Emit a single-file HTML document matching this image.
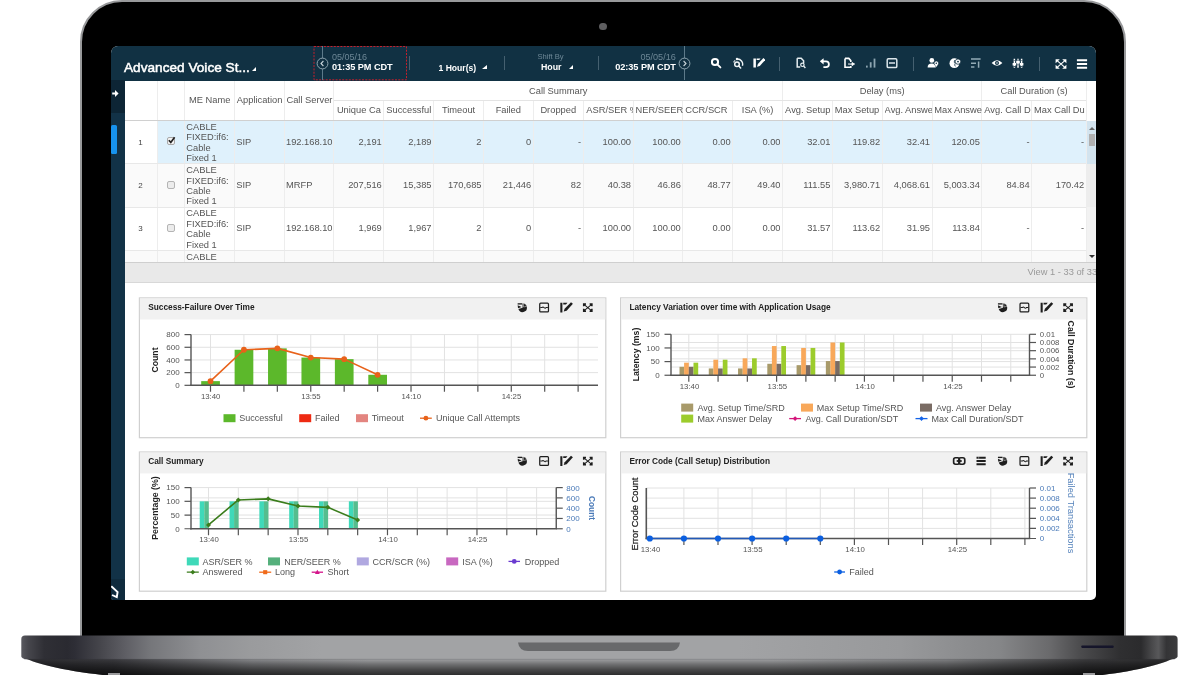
<!DOCTYPE html>
<html><head><meta charset="utf-8"><title>Advanced Voice Statistics</title>
<style>
html,body{margin:0;padding:0;background:#fff;}
body{width:1200px;height:675px;position:relative;overflow:hidden;font-family:"Liberation Sans",sans-serif;}
.abs{position:absolute;}
#lid{position:absolute;left:80px;top:0px;width:1045.7px;height:640px;background:#000;border:2.8px solid #98999b;border-radius:42px 42px 0 0;box-sizing:border-box;}
#screen{position:absolute;left:110.5px;top:46px;width:985px;height:554px;background:#fff;border-radius:7px 7px 5px 3px;overflow:hidden;}
#nav{position:absolute;left:0;top:0;width:985px;height:34.5px;background:#113143;}
#side{position:absolute;left:0;top:34px;width:14.5px;height:520px;background:#123247;}
.t{position:absolute;white-space:nowrap;line-height:1;}
.sep{position:absolute;width:1px;height:14px;top:10px;background:#456070;}
table{border-collapse:collapse;}
.cell{position:absolute;white-space:nowrap;overflow:hidden;font-size:9.3px;color:#555;line-height:10.5px;}
.num{text-align:right;}
.vl{position:absolute;width:1px;background:#ededed;}
.hl{position:absolute;height:1px;background:#e4e4e4;}
.panel{position:absolute;background:#fff;border:1px solid #d6d6d6;box-sizing:border-box;}
.ptitle{position:absolute;left:0;top:0;right:0;height:21px;background:#f1f1f1;}
.ptitle span{position:absolute;left:9.5px;top:6.5px;font-size:7.6px;font-weight:bold;color:#222;line-height:1;white-space:nowrap;}
svg text{font-family:"Liberation Sans",sans-serif;}
</style></head><body>

<div id="lid"></div>
<div class="abs" style="left:599px;top:22.7px;width:7.6px;height:7.6px;border-radius:50%;background:#5e5e60;"></div>
<svg class="abs" style="left:0;top:628px" width="1200" height="47" viewBox="0 628 1200 47">
<defs>
<linearGradient id="bg" gradientUnits="userSpaceOnUse" x1="21" x2="1178" y1="0" y2="0">
<stop offset="0" stop-color="#5a5a60"/><stop offset="0.006" stop-color="#47474d"/><stop offset="0.02" stop-color="#2f2f35"/><stop offset="0.04" stop-color="#2a2a31"/><stop offset="0.0467" stop-color="#2e2e36"/>
<stop offset="0.068" stop-color="#45454b"/><stop offset="0.09" stop-color="#5e5e64"/><stop offset="0.1115" stop-color="#75767a"/><stop offset="0.155" stop-color="#8f9093"/><stop offset="0.198" stop-color="#9a9b9d"/><stop offset="0.26" stop-color="#a2a3a5"/><stop offset="0.62" stop-color="#a2a3a5"/><stop offset="0.76" stop-color="#98999b"/>
<stop offset="0.846" stop-color="#858688"/><stop offset="0.889" stop-color="#6a6a6c"/><stop offset="0.915" stop-color="#4c4c4e"/><stop offset="0.95" stop-color="#2f2f31"/><stop offset="0.968" stop-color="#2b2b2d"/><stop offset="0.978" stop-color="#4a4a4c"/><stop offset="0.983" stop-color="#58585a"/><stop offset="0.99" stop-color="#343436"/><stop offset="1" stop-color="#3c3c3e"/>
</linearGradient>
<linearGradient id="ug" gradientUnits="userSpaceOnUse" x1="21" x2="1178" y1="0" y2="0">
<stop offset="0" stop-color="#2c2c30"/><stop offset="0.08" stop-color="#3a3a3e"/><stop offset="0.2" stop-color="#88898c"/><stop offset="0.3" stop-color="#a0a1a3"/><stop offset="0.65" stop-color="#a0a1a3"/><stop offset="0.8" stop-color="#808183"/><stop offset="0.92" stop-color="#3a3a3c"/><stop offset="1" stop-color="#2a2a2c"/>
</linearGradient>
<linearGradient id="ud" gradientUnits="userSpaceOnUse" x1="0" x2="0" y1="657" y2="675">
<stop offset="0" stop-color="#000" stop-opacity="0"/><stop offset="0.15" stop-color="#000" stop-opacity="0.04"/><stop offset="0.4" stop-color="#000" stop-opacity="0.3"/><stop offset="0.7" stop-color="#000" stop-opacity="0.55"/><stop offset="1" stop-color="#000" stop-opacity="0.72"/>
</linearGradient>
</defs>
<path d="M21.3,656 C33,664 68,671.5 112,676 L1094,676 C1134,671.5 1166,664 1177.6,656 Z" fill="url(#ug)"/>
<path d="M21.3,656 C33,664 68,671.5 112,676 L1094,676 C1134,671.5 1166,664 1177.6,656 Z" fill="url(#ud)"/>
<rect x="108" y="673" width="12" height="2" fill="#9a9a9c"/><rect x="1083" y="673" width="12" height="2" fill="#9a9a9c"/>
<path d="M21.3,639 Q21.3,635.5 25,635.5 L1174,635.5 Q1177.6,635.5 1177.6,639 L1177.6,656 Q1177.6,659 1172,659.3 L27,659.3 Q21.3,659 21.3,656 Z" fill="url(#bg)"/>
<path d="M24,659.3 L1175,659.3" stroke="#2a2a2e" stroke-width="0.8" opacity="0.22"/>
<path d="M518,642.6 L680,642.6 Q679,651 670,651 L528,651 Q519,651 518,642.6 Z" fill="#68696b"/>
<rect x="1081.2" y="645.6" width="32.6" height="2.3" rx="1.1" fill="#15152a"/>
</svg>
<div id="screen">
<div id="nav">
<div class="t" style="left:13.5px;top:14.5px;font-size:13.6px;color:#fff;-webkit-text-stroke:0.5px #fff;letter-spacing:0.02px;">Advanced Voice St...</div>
<div class="abs" style="left:141.2px;top:20.6px;width:0;height:0;border-left:4.5px solid transparent;border-bottom:4.3px solid #fff;"></div>
<svg class="abs" style="left:202.5px;top:0" width="95" height="35" viewBox="0 0 95 35"><rect x="1" y="0.5" width="92.5" height="33.3" fill="none" stroke="#c4202c" stroke-width="1" stroke-dasharray="2 1.3"/></svg>
<div class="abs" style="left:211px;top:0;width:1px;height:34px;background:#5d7a8a;"></div>
<svg class="abs" style="left:205px;top:11px" width="13" height="13" viewBox="0 0 13 13"><circle cx="6.5" cy="6.5" r="5.4" fill="#113143" stroke="#8fa6b1" stroke-width="1"/><path d="M7.4,4 L5,6.5 L7.4,9" fill="none" stroke="#c8d4da" stroke-width="1.1"/></svg>
<div class="t" style="left:221.5px;top:7px;font-size:9px;color:#6d8796;">05/05/16</div>
<div class="t" style="left:221.5px;top:17.4px;font-size:9.2px;color:#fff;font-weight:bold;letter-spacing:-0.05px;">01:35 PM CDT</div>
<div class="sep" style="left:298.5px;"></div>
<div class="t" style="left:328px;top:18px;font-size:8.6px;color:#fff;font-weight:bold;">1 Hour(s)</div>
<div class="abs" style="left:371.8px;top:18.7px;width:0;height:0;border-left:5.6px solid transparent;border-bottom:4.8px solid #fff;"></div>
<div class="sep" style="left:393px;"></div>
<div class="t" style="left:427px;top:7px;font-size:7.6px;color:#6d8796;">Shift By</div>
<div class="t" style="left:430.5px;top:17px;font-size:8.8px;color:#fff;font-weight:bold;">Hour</div>
<div class="abs" style="left:458.8px;top:18.6px;width:0;height:0;border-left:4.6px solid transparent;border-bottom:4.3px solid #fff;"></div>
<div class="sep" style="left:487.5px;"></div>
<div class="t" style="right:419.7px;top:7px;font-size:9.1px;color:#6d8796;">05/05/16</div>
<div class="t" style="right:419.7px;top:17.4px;font-size:9.2px;color:#fff;font-weight:bold;letter-spacing:-0.05px;">02:35 PM CDT</div>
<div class="abs" style="left:573.5px;top:0;width:1px;height:34px;background:#5d7a8a;"></div>
<svg class="abs" style="left:567.5px;top:10.5px" width="13" height="13" viewBox="0 0 13 13"><circle cx="6.5" cy="6.5" r="5.4" fill="#113143" stroke="#8fa6b1" stroke-width="1"/><path d="M5.6,4 L8,6.5 L5.6,9" fill="none" stroke="#c8d4da" stroke-width="1.1"/></svg>
<svg class="abs" style="left:599.3px;top:11.3px;opacity:1" width="12" height="12" viewBox="0 0 12 12"><circle cx="5" cy="5" r="3.1" fill="none" stroke="#fff" stroke-width="2"/><path d="M7.3,7.3 L10.4,10.4" stroke="#fff" stroke-width="1.9" stroke-linecap="round"/></svg>
<svg class="abs" style="left:621.0px;top:11.3px;opacity:1" width="12" height="12" viewBox="0 0 12 12"><circle cx="5" cy="7.2" r="2.3" fill="none" stroke="#eef3f5" stroke-width="1.5"/><path d="M6.8,9 L8.6,11" stroke="#eef3f5" stroke-width="1.6" stroke-linecap="round"/><path d="M5,2 A5.2,5.2 0 0 1 10.4,8.8" fill="none" stroke="#eef3f5" stroke-width="1.4"/><circle cx="5" cy="1.9" r="1.25" fill="#eef3f5"/><path d="M1.6,5.4 A3.8,3.8 0 0 1 3.2,3.4" fill="none" stroke="#eef3f5" stroke-width="1.1"/></svg>
<svg class="abs" style="left:642.2px;top:11.3px;opacity:1" width="12" height="12" viewBox="0 0 12 12"><path d="M0.4,1.4 H2.9 V10.4 H0.4 Z M3.6,1.4 H7.6 L6.2,3.1 H3.6 Z" fill="#fff"/><path d="M4,9.8 L4.9,7 L10.4,1 L12.4,2.8 L6.8,8.9 Z" fill="#fff"/></svg>
<div class="sep" style="left:668.8px;top:10.5px;height:14.5px"></div>
<svg class="abs" style="left:684.3px;top:11.3px;opacity:1" width="12" height="12" viewBox="0 0 12 12"><path d="M2.2,1.2 H6.2 L8.6,3.8 V6 M2.2,1.2 V10 H5.2" fill="none" stroke="#e6edf0" stroke-width="1.5"/><circle cx="7.4" cy="7.8" r="1.7" fill="none" stroke="#e6edf0" stroke-width="1.2"/><path d="M8.6,9 L10.4,10.9" stroke="#e6edf0" stroke-width="1.4"/></svg>
<svg class="abs" style="left:708.8px;top:11.3px;opacity:1" width="12" height="12" viewBox="0 0 12 12"><path d="M3.4,4.3 H7 A2.9,2.9 0 0 1 7,10.1 H4.4" fill="none" stroke="#fff" stroke-width="1.8"/><path d="M0.8,4.3 L4.6,1.2 V7.4 Z" fill="#fff"/></svg>
<svg class="abs" style="left:732.5px;top:11.3px;opacity:1" width="12" height="12" viewBox="0 0 12 12"><path d="M2,1.4 H5.8 L7.8,3.6 V5 M2,1.4 V10.2 H7.8 V9" fill="none" stroke="#fff" stroke-width="1.6"/><path d="M5,7 H9 V5.6 L11.6,7 L9,8.6 V7.4" fill="#fff" stroke="#fff" stroke-width="0.9"/></svg>
<svg class="abs" style="left:754.0px;top:11.3px;opacity:1" width="12" height="12" viewBox="0 0 12 12"><rect x="1" y="8.6" width="1.7" height="2" fill="#8da5b1"/><rect x="4.8" y="5.2" width="1.8" height="5.4" fill="#8da5b1"/><rect x="8.6" y="1.6" width="1.8" height="9" fill="#8da5b1"/></svg>
<svg class="abs" style="left:775.4px;top:11.3px;opacity:1" width="12" height="12" viewBox="0 0 12 12"><rect x="1.2" y="1.8" width="9.6" height="8.8" rx="1.2" fill="none" stroke="#dbe5ea" stroke-width="1.5"/><path d="M3,6 H9" stroke="#dbe5ea" stroke-width="1.4"/><path d="M4.4,4.3 H7.6 M4.4,7.7 H7.6" stroke="#113143" stroke-width="0.6"/></svg>
<div class="sep" style="left:802px;top:10.5px;height:14.5px"></div>
<svg class="abs" style="left:816.7px;top:11.3px;opacity:1" width="12" height="12" viewBox="0 0 12 12"><circle cx="4.8" cy="3.4" r="2.4" fill="#fff"/><path d="M0.6,10.4 Q0.6,6.6 4.8,6.6 Q8.4,6.6 8.8,10.4 Z" fill="#fff"/><circle cx="9.3" cy="6.2" r="2.3" fill="#fff" stroke="#113143" stroke-width="0.7"/><path d="M7.6,7.2 L9.3,10 L11,7.2 Z" fill="#fff"/><circle cx="9.3" cy="6.2" r="0.8" fill="#113143"/></svg>
<svg class="abs" style="left:838.3px;top:11.3px;opacity:1" width="12" height="12" viewBox="0 0 12 12"><circle cx="5.4" cy="6.2" r="4.9" fill="#fff"/><circle cx="9" cy="4.6" r="2.7" fill="#fff" stroke="#113143" stroke-width="0.8"/><path d="M5.8,3 Q4.4,5.4 6.2,6.6 Q5,8 6.4,9.4" fill="none" stroke="#113143" stroke-width="0.8"/><circle cx="9" cy="4.6" r="0.9" fill="#113143"/></svg>
<svg class="abs" style="left:859.2px;top:11.3px;opacity:1" width="12" height="12" viewBox="0 0 12 12"><path d="M1,2 H10.6 M1,6.2 H6 M1,10 H4.4" stroke="#93abb6" stroke-width="1.4"/><path d="M8.6,4.6 V10.8" stroke="#93abb6" stroke-width="1.5"/></svg>
<svg class="abs" style="left:880.8px;top:11.3px;opacity:1" width="12" height="12" viewBox="0 0 12 12"><path d="M0.6,6 Q6,0.6 11.4,6 Q6,11.4 0.6,6 Z" fill="#fff"/><circle cx="6" cy="6" r="2" fill="#113143"/><circle cx="6" cy="6" r="0.8" fill="#dfe8ec"/></svg>
<svg class="abs" style="left:901.9px;top:11.3px;opacity:1" width="12" height="12" viewBox="0 0 12 12"><path d="M2.4,1.8 V10.8 M6,1.8 V10.8 M9.6,1.8 V10.8" stroke="#fff" stroke-width="1.5"/><path d="M0.6,7.2 H4.2 M4.2,5 H7.8 M7.8,7.2 H11.4" stroke="#fff" stroke-width="2.4"/><path d="M2.4,3.4 V4.1 M6,2.8 V3.5 M9.6,3.4 V4.1 M2.4,9 V9.7 M6,7.6 V8.3 M9.6,9 V9.7" stroke="#113143" stroke-width="1.5"/></svg>
<div class="sep" style="left:928.5px;top:10.5px;height:14.5px"></div>
<svg class="abs" style="left:944.5px;top:11.7px;opacity:1" width="12" height="12" viewBox="0 0 12 12"><path d="M0.6,1.2 H4.8 L0.6,5.2 Z M11.4,1.2 V5.2 L7.2,1.2 Z M0.6,10.8 V6.8 L4.8,10.8 Z M11.4,10.8 H7.2 L11.4,6.8 Z" fill="#fff"/><path d="M2.4,2.8 L9.6,9.2 M9.6,2.8 L2.4,9.2" stroke="#fff" stroke-width="1.1"/></svg>
<svg class="abs" style="left:965.6px;top:11.7px;opacity:1" width="12" height="12" viewBox="0 0 12 12"><path d="M0.9,2.2 H11.1 M0.9,6 H11.1 M0.9,9.8 H11.1" stroke="#fff" stroke-width="2"/></svg>
</div>
<div id="side">
<div class="abs" style="left:0;top:0;width:14.5px;height:33px;background:#0d2535;"></div>
<svg class="abs" style="left:1px;top:9.3px" width="8" height="9" viewBox="0 0 8 9"><path d="M0.2,3.4 H3 V0.9 L6.6,4.4 L3,7.9 V5.4 H0.2 Z" fill="#fff"/></svg>
<div class="abs" style="left:0.5px;top:45.3px;width:6.2px;height:28.8px;background:#1793ee;border-radius:1.5px;"></div>
<div class="abs" style="left:0;top:499px;width:14.5px;height:21px;background:#0f2b3d;"></div>
<svg class="abs" style="left:0px;top:505px" width="9" height="14" viewBox="0 0 9 14"><path d="M0.3,1.2 L6.6,7 L5.8,12.2 L1,10 " fill="none" stroke="#fff" stroke-width="1.9" stroke-linejoin="miter"/></svg>
</div>
<div class="abs" style="left:14.5px;top:34.5px;width:970.5px;height:181.5px;background:#fff;"></div>
<div class="abs" style="left:47.0px;top:74.5px;width:938.0px;height:43.3px;background:#dff1fc;"></div>
<div class="abs" style="left:14.5px;top:117.8px;width:970.5px;height:43.3px;background:#fafafa;"></div>
<div class="abs" style="left:14.5px;top:204.2px;width:961.3px;height:11.8px;background:#fafafa;"></div>
<div class="vl" style="left:46.5px;top:34.5px;height:181.5px;"></div>
<div class="vl" style="left:73.3px;top:34.5px;height:181.5px;"></div>
<div class="vl" style="left:123.2px;top:34.5px;height:181.5px;"></div>
<div class="vl" style="left:173.0px;top:34.5px;height:181.5px;"></div>
<div class="vl" style="left:222.9px;top:34.5px;height:181.5px;"></div>
<div class="vl" style="left:272.7px;top:54.3px;height:161.7px;"></div>
<div class="vl" style="left:322.6px;top:54.3px;height:161.7px;"></div>
<div class="vl" style="left:372.4px;top:54.3px;height:161.7px;"></div>
<div class="vl" style="left:422.2px;top:54.3px;height:161.7px;"></div>
<div class="vl" style="left:472.1px;top:54.3px;height:161.7px;"></div>
<div class="vl" style="left:522.0px;top:54.3px;height:161.7px;"></div>
<div class="vl" style="left:571.8px;top:54.3px;height:161.7px;"></div>
<div class="vl" style="left:621.7px;top:54.3px;height:161.7px;"></div>
<div class="vl" style="left:671.5px;top:34.5px;height:181.5px;"></div>
<div class="vl" style="left:721.4px;top:54.3px;height:161.7px;"></div>
<div class="vl" style="left:771.2px;top:54.3px;height:161.7px;"></div>
<div class="vl" style="left:821.0px;top:54.3px;height:161.7px;"></div>
<div class="vl" style="left:870.9px;top:34.5px;height:181.5px;"></div>
<div class="vl" style="left:920.8px;top:54.3px;height:161.7px;"></div>
<div class="vl" style="left:975.3px;top:34.5px;height:181.5px;"></div>
<div class="hl" style="left:223.4px;top:53.8px;width:752.4px;"></div>
<div class="hl" style="left:14.5px;top:74.0px;width:961.3px;background:#d0d0d0;"></div>
<div class="hl" style="left:14.5px;top:117.3px;width:961.3px;background:#e8e8e8;"></div>
<div class="hl" style="left:14.5px;top:160.6px;width:961.3px;background:#e8e8e8;"></div>
<div class="hl" style="left:14.5px;top:203.7px;width:961.3px;background:#e8e8e8;"></div>
<div class="cell " style="left:74.8px;top:34.5px;width:48.8px;height:39.5px;line-height:39.5px;text-align:center;">ME Name</div>
<div class="cell " style="left:124.7px;top:34.5px;width:48.8px;height:39.5px;line-height:39.5px;text-align:center;">Application</div>
<div class="cell " style="left:174.5px;top:34.5px;width:48.9px;height:39.5px;line-height:39.5px;text-align:center;">Call Server</div>
<div class="cell " style="left:226.4px;top:54.3px;width:46.9px;height:20.2px;line-height:20.2px;text-align:left;">Unique Ca</div>
<div class="cell " style="left:275.8px;top:54.3px;width:47.2px;height:20.2px;line-height:20.2px;text-align:left;">Successful</div>
<div class="cell " style="left:323.1px;top:54.3px;width:49.9px;height:20.2px;line-height:20.2px;text-align:center;">Timeout</div>
<div class="cell " style="left:372.9px;top:54.3px;width:49.8px;height:20.2px;line-height:20.2px;text-align:center;">Failed</div>
<div class="cell " style="left:422.8px;top:54.3px;width:49.9px;height:20.2px;line-height:20.2px;text-align:center;">Dropped</div>
<div class="cell " style="left:475.8px;top:54.3px;width:46.7px;height:20.2px;line-height:20.2px;text-align:left;">ASR/SER %</div>
<div class="cell " style="left:525.1px;top:54.3px;width:47.2px;height:20.2px;line-height:20.2px;text-align:left;">NER/SEER</div>
<div class="cell " style="left:574.7px;top:54.3px;width:47.5px;height:20.2px;line-height:20.2px;text-align:left;">CCR/SCR</div>
<div class="cell " style="left:622.2px;top:54.3px;width:49.8px;height:20.2px;line-height:20.2px;text-align:center;">ISA (%)</div>
<div class="cell " style="left:674.6px;top:54.3px;width:47.3px;height:20.2px;line-height:20.2px;text-align:left;">Avg. Setup</div>
<div class="cell " style="left:724.3px;top:54.3px;width:47.4px;height:20.2px;line-height:20.2px;text-align:left;">Max Setup</div>
<div class="cell " style="left:774.1px;top:54.3px;width:47.4px;height:20.2px;line-height:20.2px;text-align:left;">Avg. Answer</div>
<div class="cell " style="left:823.8px;top:54.3px;width:47.7px;height:20.2px;line-height:20.2px;text-align:left;">Max Answer</div>
<div class="cell " style="left:873.8px;top:54.3px;width:47.4px;height:20.2px;line-height:20.2px;text-align:left;">Avg. Call D</div>
<div class="cell " style="left:923.6px;top:54.3px;width:52.1px;height:20.2px;line-height:20.2px;text-align:left;">Max Call Du</div>
<div class="cell" style="left:223.4px;top:35.8px;width:448.6px;height:19px;line-height:19px;text-align:center;">Call Summary</div>
<div class="cell" style="left:672.0px;top:35.8px;width:199.4px;height:19px;line-height:19px;text-align:center;">Delay (ms)</div>
<div class="cell" style="left:871.4px;top:35.8px;width:104.4px;height:19px;line-height:19px;text-align:center;">Call Duration (s)</div>
<div class="cell" style="left:14.5px;top:74.5px;width:31.0px;height:43.3px;line-height:43.3px;text-align:center;font-size:8px;color:#444;">1</div>
<div class="abs" style="left:56.2px;top:91.4px;width:8px;height:8px;border:1px solid #a8a8a8;border-radius:2px;background:#f4f4f4;box-sizing:border-box;"></div>
<svg class="abs" style="left:56.2px;top:90.4px" width="9" height="9" viewBox="0 0 9 9"><path d="M1.8,4.2 L3.8,6.4 L7.6,1.2" fill="none" stroke="#222" stroke-width="1.7"/></svg>
<div class="cell" style="left:75.8px;top:75.8px;width:47.8px;height:43.3px;line-height:10.45px;white-space:normal;">CABLE<br>FIXED:if6:<br>Cable<br>Fixed 1</div>
<div class="cell " style="left:125.7px;top:74.5px;width:47.8px;height:43.3px;line-height:43.3px;">SIP</div>
<div class="cell " style="left:175.5px;top:74.5px;width:47.9px;height:43.3px;line-height:43.3px;">192.168.10</div>
<div class="cell num" style="left:226.4px;top:74.5px;width:44.9px;height:43.3px;line-height:43.3px;">2,191</div>
<div class="cell num" style="left:276.2px;top:74.5px;width:44.8px;height:43.3px;line-height:43.3px;">2,189</div>
<div class="cell num" style="left:326.1px;top:74.5px;width:44.9px;height:43.3px;line-height:43.3px;">2</div>
<div class="cell num" style="left:375.9px;top:74.5px;width:44.8px;height:43.3px;line-height:43.3px;">0</div>
<div class="cell num" style="left:425.8px;top:74.5px;width:44.9px;height:43.3px;line-height:43.3px;">-</div>
<div class="cell num" style="left:475.6px;top:74.5px;width:44.9px;height:43.3px;line-height:43.3px;">100.00</div>
<div class="cell num" style="left:525.5px;top:74.5px;width:44.8px;height:43.3px;line-height:43.3px;">100.00</div>
<div class="cell num" style="left:575.3px;top:74.5px;width:44.9px;height:43.3px;line-height:43.3px;">0.00</div>
<div class="cell num" style="left:625.2px;top:74.5px;width:44.8px;height:43.3px;line-height:43.3px;">0.00</div>
<div class="cell num" style="left:675.0px;top:74.5px;width:44.9px;height:43.3px;line-height:43.3px;">32.01</div>
<div class="cell num" style="left:724.9px;top:74.5px;width:44.8px;height:43.3px;line-height:43.3px;">119.82</div>
<div class="cell num" style="left:774.7px;top:74.5px;width:44.8px;height:43.3px;line-height:43.3px;">32.41</div>
<div class="cell num" style="left:824.5px;top:74.5px;width:44.9px;height:43.3px;line-height:43.3px;">120.05</div>
<div class="cell num" style="left:874.4px;top:74.5px;width:44.8px;height:43.3px;line-height:43.3px;">-</div>
<div class="cell num" style="left:924.2px;top:74.5px;width:49.5px;height:43.3px;line-height:43.3px;">-</div>
<div class="cell" style="left:14.5px;top:117.8px;width:31.0px;height:43.3px;line-height:43.3px;text-align:center;font-size:8px;color:#444;">2</div>
<div class="abs" style="left:56.2px;top:134.6px;width:8px;height:8px;border:1px solid #b4b4b4;border-radius:2px;background:#ececec;box-sizing:border-box;"></div>
<div class="cell" style="left:75.8px;top:119.1px;width:47.8px;height:43.3px;line-height:10.45px;white-space:normal;">CABLE<br>FIXED:if6:<br>Cable<br>Fixed 1</div>
<div class="cell " style="left:125.7px;top:117.8px;width:47.8px;height:43.3px;line-height:43.3px;">SIP</div>
<div class="cell " style="left:175.5px;top:117.8px;width:47.9px;height:43.3px;line-height:43.3px;">MRFP</div>
<div class="cell num" style="left:226.4px;top:117.8px;width:44.9px;height:43.3px;line-height:43.3px;">207,516</div>
<div class="cell num" style="left:276.2px;top:117.8px;width:44.8px;height:43.3px;line-height:43.3px;">15,385</div>
<div class="cell num" style="left:326.1px;top:117.8px;width:44.9px;height:43.3px;line-height:43.3px;">170,685</div>
<div class="cell num" style="left:375.9px;top:117.8px;width:44.8px;height:43.3px;line-height:43.3px;">21,446</div>
<div class="cell num" style="left:425.8px;top:117.8px;width:44.9px;height:43.3px;line-height:43.3px;">82</div>
<div class="cell num" style="left:475.6px;top:117.8px;width:44.9px;height:43.3px;line-height:43.3px;">40.38</div>
<div class="cell num" style="left:525.5px;top:117.8px;width:44.8px;height:43.3px;line-height:43.3px;">46.86</div>
<div class="cell num" style="left:575.3px;top:117.8px;width:44.9px;height:43.3px;line-height:43.3px;">48.77</div>
<div class="cell num" style="left:625.2px;top:117.8px;width:44.8px;height:43.3px;line-height:43.3px;">49.40</div>
<div class="cell num" style="left:675.0px;top:117.8px;width:44.9px;height:43.3px;line-height:43.3px;">111.55</div>
<div class="cell num" style="left:724.9px;top:117.8px;width:44.8px;height:43.3px;line-height:43.3px;">3,980.71</div>
<div class="cell num" style="left:774.7px;top:117.8px;width:44.8px;height:43.3px;line-height:43.3px;">4,068.61</div>
<div class="cell num" style="left:824.5px;top:117.8px;width:44.9px;height:43.3px;line-height:43.3px;">5,003.34</div>
<div class="cell num" style="left:874.4px;top:117.8px;width:44.8px;height:43.3px;line-height:43.3px;">84.84</div>
<div class="cell num" style="left:924.2px;top:117.8px;width:49.5px;height:43.3px;line-height:43.3px;">170.42</div>
<div class="cell" style="left:14.5px;top:161.1px;width:31.0px;height:43.1px;line-height:43.1px;text-align:center;font-size:8px;color:#444;">3</div>
<div class="abs" style="left:56.2px;top:177.8px;width:8px;height:8px;border:1px solid #b4b4b4;border-radius:2px;background:#ececec;box-sizing:border-box;"></div>
<div class="cell" style="left:75.8px;top:162.4px;width:47.8px;height:43.1px;line-height:10.45px;white-space:normal;">CABLE<br>FIXED:if6:<br>Cable<br>Fixed 1</div>
<div class="cell " style="left:125.7px;top:161.1px;width:47.8px;height:43.1px;line-height:43.1px;">SIP</div>
<div class="cell " style="left:175.5px;top:161.1px;width:47.9px;height:43.1px;line-height:43.1px;">192.168.10</div>
<div class="cell num" style="left:226.4px;top:161.1px;width:44.9px;height:43.1px;line-height:43.1px;">1,969</div>
<div class="cell num" style="left:276.2px;top:161.1px;width:44.8px;height:43.1px;line-height:43.1px;">1,967</div>
<div class="cell num" style="left:326.1px;top:161.1px;width:44.9px;height:43.1px;line-height:43.1px;">2</div>
<div class="cell num" style="left:375.9px;top:161.1px;width:44.8px;height:43.1px;line-height:43.1px;">0</div>
<div class="cell num" style="left:425.8px;top:161.1px;width:44.9px;height:43.1px;line-height:43.1px;">-</div>
<div class="cell num" style="left:475.6px;top:161.1px;width:44.9px;height:43.1px;line-height:43.1px;">100.00</div>
<div class="cell num" style="left:525.5px;top:161.1px;width:44.8px;height:43.1px;line-height:43.1px;">100.00</div>
<div class="cell num" style="left:575.3px;top:161.1px;width:44.9px;height:43.1px;line-height:43.1px;">0.00</div>
<div class="cell num" style="left:625.2px;top:161.1px;width:44.8px;height:43.1px;line-height:43.1px;">0.00</div>
<div class="cell num" style="left:675.0px;top:161.1px;width:44.9px;height:43.1px;line-height:43.1px;">31.57</div>
<div class="cell num" style="left:724.9px;top:161.1px;width:44.8px;height:43.1px;line-height:43.1px;">113.62</div>
<div class="cell num" style="left:774.7px;top:161.1px;width:44.8px;height:43.1px;line-height:43.1px;">31.95</div>
<div class="cell num" style="left:824.5px;top:161.1px;width:44.9px;height:43.1px;line-height:43.1px;">113.84</div>
<div class="cell num" style="left:874.4px;top:161.1px;width:44.8px;height:43.1px;line-height:43.1px;">-</div>
<div class="cell num" style="left:924.2px;top:161.1px;width:49.5px;height:43.1px;line-height:43.1px;">-</div>
<div class="cell" style="left:75.8px;top:205.5px;width:45px;height:11px;">CABLE</div>
<div class="abs" style="left:976px;top:74.5px;width:9px;height:141px;background:rgba(0,0,0,0.05);"></div>
<div class="abs" style="left:978.3px;top:88px;width:6.7px;height:12px;background:#b0b0b0;"></div>
<div class="abs" style="left:978.5px;top:80.5px;width:0;height:0;border-left:3px solid transparent;border-right:3px solid transparent;border-bottom:3px solid #666;"></div>
<div class="abs" style="left:978.5px;top:208.5px;width:0;height:0;border-left:3px solid transparent;border-right:3px solid transparent;border-top:3px solid #333;"></div>
<div class="abs" style="left:14.5px;top:215.5px;width:970.5px;height:21.5px;background:#e9e9e9;border-top:1px solid #cfcfcf;border-bottom:1px solid #d8d8d8;box-sizing:border-box;"></div>
<div class="t" style="left:917px;top:221.7px;font-size:9.3px;color:#999;">View 1 - 33 of 33</div>
<svg class="abs" style="left:0;top:0" width="985" height="554" viewBox="110.5 46 985 554">
<rect x="138.90" y="297.90" width="466.40" height="139.80" fill="#fff" stroke="#d0d0d0" stroke-width="1.2"/>
<rect x="139.40" y="298.40" width="465.40" height="21.10" fill="#f1f1f1"/>
<text x="147.70" y="309.80" font-size="8.3" font-weight="bold" fill="#222">Success-Failure Over Time</text>
<line x1="210.00" y1="334.60" x2="210.00" y2="385.25" stroke="#e2e2e2" stroke-width="1"/>
<line x1="243.42" y1="334.60" x2="243.42" y2="385.25" stroke="#e2e2e2" stroke-width="1"/>
<line x1="276.84" y1="334.60" x2="276.84" y2="385.25" stroke="#e2e2e2" stroke-width="1"/>
<line x1="310.26" y1="334.60" x2="310.26" y2="385.25" stroke="#e2e2e2" stroke-width="1"/>
<line x1="343.68" y1="334.60" x2="343.68" y2="385.25" stroke="#e2e2e2" stroke-width="1"/>
<line x1="377.10" y1="334.60" x2="377.10" y2="385.25" stroke="#e2e2e2" stroke-width="1"/>
<line x1="410.52" y1="334.60" x2="410.52" y2="385.25" stroke="#e2e2e2" stroke-width="1"/>
<line x1="443.94" y1="334.60" x2="443.94" y2="385.25" stroke="#e2e2e2" stroke-width="1"/>
<line x1="477.36" y1="334.60" x2="477.36" y2="385.25" stroke="#e2e2e2" stroke-width="1"/>
<line x1="510.78" y1="334.60" x2="510.78" y2="385.25" stroke="#e2e2e2" stroke-width="1"/>
<line x1="544.20" y1="334.60" x2="544.20" y2="385.25" stroke="#e2e2e2" stroke-width="1"/>
<line x1="577.62" y1="334.60" x2="577.62" y2="385.25" stroke="#e2e2e2" stroke-width="1"/>
<line x1="190.50" y1="334.60" x2="597.50" y2="334.60" stroke="#e2e2e2" stroke-width="1"/>
<line x1="190.50" y1="347.28" x2="597.50" y2="347.28" stroke="#e2e2e2" stroke-width="1"/>
<line x1="190.50" y1="359.96" x2="597.50" y2="359.96" stroke="#e2e2e2" stroke-width="1"/>
<line x1="190.50" y1="372.64" x2="597.50" y2="372.64" stroke="#e2e2e2" stroke-width="1"/>
<rect x="200.70" y="381.13" width="18.70" height="4.12" fill="#5cb82b"/>
<rect x="234.12" y="349.76" width="18.70" height="35.49" fill="#5cb82b"/>
<rect x="267.54" y="348.37" width="18.70" height="36.88" fill="#5cb82b"/>
<rect x="300.96" y="357.56" width="18.70" height="27.69" fill="#5cb82b"/>
<rect x="334.38" y="359.14" width="18.70" height="26.11" fill="#5cb82b"/>
<rect x="367.80" y="374.79" width="18.70" height="10.46" fill="#5cb82b"/>
<line x1="190.50" y1="334.60" x2="190.50" y2="385.95" stroke="#555" stroke-width="1.4"/>
<line x1="189.80" y1="385.25" x2="597.50" y2="385.25" stroke="#555" stroke-width="1.4"/>
<line x1="184.00" y1="334.60" x2="190.50" y2="334.60" stroke="#555" stroke-width="1.2"/>
<text x="179.20" y="337.40" font-size="8" text-anchor="end" fill="#555" font-weight="normal" >800</text>
<line x1="184.00" y1="347.28" x2="190.50" y2="347.28" stroke="#555" stroke-width="1.2"/>
<text x="179.20" y="350.08" font-size="8" text-anchor="end" fill="#555" font-weight="normal" >600</text>
<line x1="184.00" y1="359.96" x2="190.50" y2="359.96" stroke="#555" stroke-width="1.2"/>
<text x="179.20" y="362.76" font-size="8" text-anchor="end" fill="#555" font-weight="normal" >400</text>
<line x1="184.00" y1="372.64" x2="190.50" y2="372.64" stroke="#555" stroke-width="1.2"/>
<text x="179.20" y="375.44" font-size="8" text-anchor="end" fill="#555" font-weight="normal" >200</text>
<line x1="184.00" y1="385.32" x2="190.50" y2="385.32" stroke="#555" stroke-width="1.2"/>
<text x="179.20" y="388.12" font-size="8" text-anchor="end" fill="#555" font-weight="normal" >0</text>
<line x1="210.00" y1="385.25" x2="210.00" y2="391.75" stroke="#555" stroke-width="1.2"/>
<line x1="243.42" y1="385.25" x2="243.42" y2="391.75" stroke="#555" stroke-width="1.2"/>
<line x1="276.84" y1="385.25" x2="276.84" y2="391.75" stroke="#555" stroke-width="1.2"/>
<line x1="310.26" y1="385.25" x2="310.26" y2="391.75" stroke="#555" stroke-width="1.2"/>
<line x1="343.68" y1="385.25" x2="343.68" y2="391.75" stroke="#555" stroke-width="1.2"/>
<line x1="377.10" y1="385.25" x2="377.10" y2="391.75" stroke="#555" stroke-width="1.2"/>
<line x1="410.52" y1="385.25" x2="410.52" y2="391.75" stroke="#555" stroke-width="1.2"/>
<line x1="443.94" y1="385.25" x2="443.94" y2="391.75" stroke="#555" stroke-width="1.2"/>
<line x1="477.36" y1="385.25" x2="477.36" y2="391.75" stroke="#555" stroke-width="1.2"/>
<line x1="510.78" y1="385.25" x2="510.78" y2="391.75" stroke="#555" stroke-width="1.2"/>
<line x1="544.20" y1="385.25" x2="544.20" y2="391.75" stroke="#555" stroke-width="1.2"/>
<line x1="577.62" y1="385.25" x2="577.62" y2="391.75" stroke="#555" stroke-width="1.2"/>
<text x="210.20" y="399.40" font-size="7.8" text-anchor="middle" fill="#555" font-weight="normal" >13:40</text>
<text x="310.46" y="399.40" font-size="7.8" text-anchor="middle" fill="#555" font-weight="normal" >13:55</text>
<text x="410.72" y="399.40" font-size="7.8" text-anchor="middle" fill="#555" font-weight="normal" >14:10</text>
<text x="510.98" y="399.40" font-size="7.8" text-anchor="middle" fill="#555" font-weight="normal" >14:25</text>
<polyline points="210.00,381.13 243.42,349.76 276.84,348.37 310.26,357.56 343.68,359.14 377.10,374.79" fill="none" stroke="#e8621a" stroke-width="1.6" stroke-linejoin="round"/>
<circle cx="210.00" cy="381.13" r="2.90" fill="#e8621a"/>
<circle cx="243.42" cy="349.76" r="2.90" fill="#e8621a"/>
<circle cx="276.84" cy="348.37" r="2.90" fill="#e8621a"/>
<circle cx="310.26" cy="357.56" r="2.90" fill="#e8621a"/>
<circle cx="343.68" cy="359.14" r="2.90" fill="#e8621a"/>
<circle cx="377.10" cy="374.79" r="2.90" fill="#e8621a"/>
<text x="157.30" y="360.00" font-size="8.7" text-anchor="middle" fill="#222" font-weight="bold" transform="rotate(-90 157.3 360)">Count</text>
<rect x="223.00" y="414.20" width="12.00" height="8.00" fill="#5cb82b"/>
<text x="238.70" y="421.30" font-size="9" text-anchor="start" fill="#555" font-weight="normal" >Successful</text>
<rect x="298.70" y="414.20" width="12.00" height="8.00" fill="#ee2a12"/>
<text x="314.50" y="421.30" font-size="9" text-anchor="start" fill="#555" font-weight="normal" >Failed</text>
<rect x="355.50" y="414.20" width="12.00" height="8.00" fill="#e38580"/>
<text x="371.20" y="421.30" font-size="9" text-anchor="start" fill="#555" font-weight="normal" >Timeout</text>
<line x1="419.50" y1="418.20" x2="431.30" y2="418.20" stroke="#e8621a" stroke-width="1.3"/>
<circle cx="425.40" cy="418.20" r="2.40" fill="#e8621a"/>
<text x="435.50" y="421.30" font-size="9" text-anchor="start" fill="#555" font-weight="normal" >Unique Call Attempts</text>
<rect x="620.10" y="297.90" width="466.20" height="139.80" fill="#fff" stroke="#d0d0d0" stroke-width="1.2"/>
<rect x="620.60" y="298.40" width="465.20" height="21.10" fill="#f1f1f1"/>
<text x="628.90" y="309.80" font-size="8.3" font-weight="bold" fill="#222">Latency Variation over time with Application Usage</text>
<line x1="688.30" y1="334.30" x2="688.30" y2="375.25" stroke="#e2e2e2" stroke-width="1"/>
<line x1="717.57" y1="334.30" x2="717.57" y2="375.25" stroke="#e2e2e2" stroke-width="1"/>
<line x1="746.84" y1="334.30" x2="746.84" y2="375.25" stroke="#e2e2e2" stroke-width="1"/>
<line x1="776.11" y1="334.30" x2="776.11" y2="375.25" stroke="#e2e2e2" stroke-width="1"/>
<line x1="805.38" y1="334.30" x2="805.38" y2="375.25" stroke="#e2e2e2" stroke-width="1"/>
<line x1="834.65" y1="334.30" x2="834.65" y2="375.25" stroke="#e2e2e2" stroke-width="1"/>
<line x1="863.92" y1="334.30" x2="863.92" y2="375.25" stroke="#e2e2e2" stroke-width="1"/>
<line x1="893.19" y1="334.30" x2="893.19" y2="375.25" stroke="#e2e2e2" stroke-width="1"/>
<line x1="922.46" y1="334.30" x2="922.46" y2="375.25" stroke="#e2e2e2" stroke-width="1"/>
<line x1="951.73" y1="334.30" x2="951.73" y2="375.25" stroke="#e2e2e2" stroke-width="1"/>
<line x1="981.00" y1="334.30" x2="981.00" y2="375.25" stroke="#e2e2e2" stroke-width="1"/>
<line x1="1010.27" y1="334.30" x2="1010.27" y2="375.25" stroke="#e2e2e2" stroke-width="1"/>
<line x1="670.50" y1="334.30" x2="1029.00" y2="334.30" stroke="#e2e2e2" stroke-width="1"/>
<line x1="670.50" y1="347.95" x2="1029.00" y2="347.95" stroke="#e2e2e2" stroke-width="1"/>
<line x1="670.50" y1="361.60" x2="1029.00" y2="361.60" stroke="#e2e2e2" stroke-width="1"/>
<line x1="670.50" y1="342.49" x2="1029.00" y2="342.49" stroke="#e2e2e2" stroke-width="1"/>
<line x1="670.50" y1="350.68" x2="1029.00" y2="350.68" stroke="#e2e2e2" stroke-width="1"/>
<line x1="670.50" y1="358.87" x2="1029.00" y2="358.87" stroke="#e2e2e2" stroke-width="1"/>
<line x1="670.50" y1="367.06" x2="1029.00" y2="367.06" stroke="#e2e2e2" stroke-width="1"/>
<rect x="679.00" y="366.79" width="4.70" height="8.46" fill="#a89a6a"/>
<rect x="683.60" y="362.69" width="4.70" height="12.56" fill="#f8a85a"/>
<rect x="688.30" y="366.79" width="4.70" height="8.46" fill="#7a6c64"/>
<rect x="693.00" y="362.69" width="4.70" height="12.56" fill="#9ccc2c"/>
<rect x="708.27" y="368.43" width="4.70" height="6.83" fill="#a89a6a"/>
<rect x="712.87" y="359.69" width="4.70" height="15.56" fill="#f8a85a"/>
<rect x="717.57" y="368.43" width="4.70" height="6.83" fill="#7a6c64"/>
<rect x="722.27" y="359.69" width="4.70" height="15.56" fill="#9ccc2c"/>
<rect x="737.54" y="368.43" width="4.70" height="6.83" fill="#a89a6a"/>
<rect x="742.14" y="358.32" width="4.70" height="16.93" fill="#f8a85a"/>
<rect x="746.84" y="368.43" width="4.70" height="6.83" fill="#7a6c64"/>
<rect x="751.54" y="358.32" width="4.70" height="16.93" fill="#9ccc2c"/>
<rect x="766.81" y="363.78" width="4.70" height="11.47" fill="#a89a6a"/>
<rect x="771.41" y="346.04" width="4.70" height="29.21" fill="#f8a85a"/>
<rect x="776.11" y="363.78" width="4.70" height="11.47" fill="#7a6c64"/>
<rect x="780.81" y="346.04" width="4.70" height="29.21" fill="#9ccc2c"/>
<rect x="796.08" y="365.15" width="4.70" height="10.10" fill="#a89a6a"/>
<rect x="800.68" y="347.95" width="4.70" height="27.30" fill="#f8a85a"/>
<rect x="805.38" y="365.15" width="4.70" height="10.10" fill="#7a6c64"/>
<rect x="810.08" y="347.95" width="4.70" height="27.30" fill="#9ccc2c"/>
<rect x="825.35" y="361.05" width="4.70" height="14.20" fill="#a89a6a"/>
<rect x="829.95" y="342.49" width="4.70" height="32.76" fill="#f8a85a"/>
<rect x="834.65" y="361.05" width="4.70" height="14.20" fill="#7a6c64"/>
<rect x="839.35" y="342.49" width="4.70" height="32.76" fill="#9ccc2c"/>
<line x1="670.50" y1="334.30" x2="670.50" y2="375.95" stroke="#555" stroke-width="1.4"/>
<line x1="669.80" y1="375.25" x2="1029.70" y2="375.25" stroke="#555" stroke-width="1.4"/>
<line x1="1029.00" y1="334.30" x2="1029.00" y2="375.25" stroke="#555" stroke-width="1.4"/>
<line x1="664.00" y1="334.30" x2="670.50" y2="334.30" stroke="#555" stroke-width="1.2"/>
<text x="659.20" y="337.10" font-size="8" text-anchor="end" fill="#555" font-weight="normal" >150</text>
<line x1="664.00" y1="347.95" x2="670.50" y2="347.95" stroke="#555" stroke-width="1.2"/>
<text x="659.20" y="350.75" font-size="8" text-anchor="end" fill="#555" font-weight="normal" >100</text>
<line x1="664.00" y1="361.60" x2="670.50" y2="361.60" stroke="#555" stroke-width="1.2"/>
<text x="659.20" y="364.40" font-size="8" text-anchor="end" fill="#555" font-weight="normal" >50</text>
<line x1="664.00" y1="375.25" x2="670.50" y2="375.25" stroke="#555" stroke-width="1.2"/>
<text x="659.20" y="378.05" font-size="8" text-anchor="end" fill="#555" font-weight="normal" >0</text>
<line x1="1029.00" y1="334.30" x2="1035.50" y2="334.30" stroke="#555" stroke-width="1.2"/>
<text x="1039.30" y="337.10" font-size="7.8" text-anchor="start" fill="#555" font-weight="normal" >0.01</text>
<line x1="1029.00" y1="342.49" x2="1035.50" y2="342.49" stroke="#555" stroke-width="1.2"/>
<text x="1039.30" y="345.29" font-size="7.8" text-anchor="start" fill="#555" font-weight="normal" >0.008</text>
<line x1="1029.00" y1="350.68" x2="1035.50" y2="350.68" stroke="#555" stroke-width="1.2"/>
<text x="1039.30" y="353.48" font-size="7.8" text-anchor="start" fill="#555" font-weight="normal" >0.006</text>
<line x1="1029.00" y1="358.87" x2="1035.50" y2="358.87" stroke="#555" stroke-width="1.2"/>
<text x="1039.30" y="361.67" font-size="7.8" text-anchor="start" fill="#555" font-weight="normal" >0.004</text>
<line x1="1029.00" y1="367.06" x2="1035.50" y2="367.06" stroke="#555" stroke-width="1.2"/>
<text x="1039.30" y="369.86" font-size="7.8" text-anchor="start" fill="#555" font-weight="normal" >0.002</text>
<line x1="1029.00" y1="375.25" x2="1035.50" y2="375.25" stroke="#555" stroke-width="1.2"/>
<text x="1039.30" y="378.05" font-size="7.8" text-anchor="start" fill="#555" font-weight="normal" >0</text>
<line x1="688.30" y1="375.25" x2="688.30" y2="381.75" stroke="#555" stroke-width="1.2"/>
<line x1="717.57" y1="375.25" x2="717.57" y2="381.75" stroke="#555" stroke-width="1.2"/>
<line x1="746.84" y1="375.25" x2="746.84" y2="381.75" stroke="#555" stroke-width="1.2"/>
<line x1="776.11" y1="375.25" x2="776.11" y2="381.75" stroke="#555" stroke-width="1.2"/>
<line x1="805.38" y1="375.25" x2="805.38" y2="381.75" stroke="#555" stroke-width="1.2"/>
<line x1="834.65" y1="375.25" x2="834.65" y2="381.75" stroke="#555" stroke-width="1.2"/>
<line x1="863.92" y1="375.25" x2="863.92" y2="381.75" stroke="#555" stroke-width="1.2"/>
<line x1="893.19" y1="375.25" x2="893.19" y2="381.75" stroke="#555" stroke-width="1.2"/>
<line x1="922.46" y1="375.25" x2="922.46" y2="381.75" stroke="#555" stroke-width="1.2"/>
<line x1="951.73" y1="375.25" x2="951.73" y2="381.75" stroke="#555" stroke-width="1.2"/>
<line x1="981.00" y1="375.25" x2="981.00" y2="381.75" stroke="#555" stroke-width="1.2"/>
<line x1="1010.27" y1="375.25" x2="1010.27" y2="381.75" stroke="#555" stroke-width="1.2"/>
<text x="689.00" y="389.00" font-size="7.8" text-anchor="middle" fill="#555" font-weight="normal" >13:40</text>
<text x="776.81" y="389.00" font-size="7.8" text-anchor="middle" fill="#555" font-weight="normal" >13:55</text>
<text x="864.62" y="389.00" font-size="7.8" text-anchor="middle" fill="#555" font-weight="normal" >14:10</text>
<text x="952.43" y="389.00" font-size="7.8" text-anchor="middle" fill="#555" font-weight="normal" >14:25</text>
<text x="638.00" y="354.50" font-size="8.7" text-anchor="middle" fill="#222" font-weight="bold" transform="rotate(-90 638 354.5)">Latency (ms)</text>
<text x="1067.50" y="354.50" font-size="8.8" text-anchor="middle" fill="#222" font-weight="bold" transform="rotate(90 1067.5 354.5)">Call Duration (s)</text>
<rect x="680.70" y="403.60" width="12.00" height="8.00" fill="#a89a6a"/>
<text x="697.00" y="410.70" font-size="9" text-anchor="start" fill="#555" font-weight="normal" >Avg. Setup Time/SRD</text>
<rect x="800.50" y="403.60" width="12.00" height="8.00" fill="#f8a85a"/>
<text x="816.30" y="410.70" font-size="9" text-anchor="start" fill="#555" font-weight="normal" >Max Setup Time/SRD</text>
<rect x="919.50" y="403.60" width="12.00" height="8.00" fill="#7a6c64"/>
<text x="935.50" y="410.70" font-size="9" text-anchor="start" fill="#555" font-weight="normal" >Avg. Answer Delay</text>
<rect x="680.70" y="414.60" width="12.00" height="8.00" fill="#9ccc2c"/>
<text x="697.00" y="421.70" font-size="9" text-anchor="start" fill="#555" font-weight="normal" >Max Answer Delay</text>
<line x1="788.70" y1="418.60" x2="800.50" y2="418.60" stroke="#d4147a" stroke-width="1.3"/>
<path d="M792.20,418.60 l2.40,-2.40 l2.40,2.40 l-2.40,2.40 Z" fill="#d4147a"/>
<text x="805.00" y="421.70" font-size="9" text-anchor="start" fill="#555" font-weight="normal" >Avg. Call Duration/SDT</text>
<line x1="915.00" y1="418.60" x2="927.00" y2="418.60" stroke="#1464e8" stroke-width="1.3"/>
<path d="M918.60,418.60 l2.40,-2.40 l2.40,2.40 l-2.40,2.40 Z" fill="#1464e8"/>
<text x="931.00" y="421.70" font-size="9" text-anchor="start" fill="#555" font-weight="normal" >Max Call Duration/SDT</text>
<rect x="138.90" y="452.00" width="466.40" height="139.20" fill="#fff" stroke="#d0d0d0" stroke-width="1.2"/>
<rect x="139.40" y="452.50" width="465.40" height="20.90" fill="#f1f1f1"/>
<text x="147.70" y="463.90" font-size="8.3" font-weight="bold" fill="#222">Call Summary</text>
<line x1="208.00" y1="487.60" x2="208.00" y2="528.75" stroke="#e2e2e2" stroke-width="1"/>
<line x1="237.83" y1="487.60" x2="237.83" y2="528.75" stroke="#e2e2e2" stroke-width="1"/>
<line x1="267.66" y1="487.60" x2="267.66" y2="528.75" stroke="#e2e2e2" stroke-width="1"/>
<line x1="297.49" y1="487.60" x2="297.49" y2="528.75" stroke="#e2e2e2" stroke-width="1"/>
<line x1="327.32" y1="487.60" x2="327.32" y2="528.75" stroke="#e2e2e2" stroke-width="1"/>
<line x1="357.15" y1="487.60" x2="357.15" y2="528.75" stroke="#e2e2e2" stroke-width="1"/>
<line x1="386.98" y1="487.60" x2="386.98" y2="528.75" stroke="#e2e2e2" stroke-width="1"/>
<line x1="416.81" y1="487.60" x2="416.81" y2="528.75" stroke="#e2e2e2" stroke-width="1"/>
<line x1="446.64" y1="487.60" x2="446.64" y2="528.75" stroke="#e2e2e2" stroke-width="1"/>
<line x1="476.47" y1="487.60" x2="476.47" y2="528.75" stroke="#e2e2e2" stroke-width="1"/>
<line x1="506.30" y1="487.60" x2="506.30" y2="528.75" stroke="#e2e2e2" stroke-width="1"/>
<line x1="536.13" y1="487.60" x2="536.13" y2="528.75" stroke="#e2e2e2" stroke-width="1"/>
<line x1="190.50" y1="487.60" x2="555.75" y2="487.60" stroke="#e2e2e2" stroke-width="1"/>
<line x1="190.50" y1="501.32" x2="555.75" y2="501.32" stroke="#e2e2e2" stroke-width="1"/>
<line x1="190.50" y1="515.04" x2="555.75" y2="515.04" stroke="#e2e2e2" stroke-width="1"/>
<line x1="190.50" y1="497.89" x2="555.75" y2="497.89" stroke="#e2e2e2" stroke-width="1"/>
<line x1="190.50" y1="508.18" x2="555.75" y2="508.18" stroke="#e2e2e2" stroke-width="1"/>
<line x1="190.50" y1="518.47" x2="555.75" y2="518.47" stroke="#e2e2e2" stroke-width="1"/>
<rect x="199.20" y="501.32" width="4.60" height="27.43" fill="#3fd9b9"/>
<rect x="203.75" y="501.32" width="4.50" height="27.43" fill="#56bd8e"/>
<rect x="229.03" y="501.32" width="4.60" height="27.43" fill="#3fd9b9"/>
<rect x="233.58" y="501.32" width="4.50" height="27.43" fill="#56bd8e"/>
<rect x="258.86" y="501.32" width="4.60" height="27.43" fill="#3fd9b9"/>
<rect x="263.41" y="501.32" width="4.50" height="27.43" fill="#56bd8e"/>
<rect x="288.69" y="501.32" width="4.60" height="27.43" fill="#3fd9b9"/>
<rect x="293.24" y="501.32" width="4.50" height="27.43" fill="#56bd8e"/>
<rect x="318.52" y="501.32" width="4.60" height="27.43" fill="#3fd9b9"/>
<rect x="323.07" y="501.32" width="4.50" height="27.43" fill="#56bd8e"/>
<rect x="348.35" y="501.32" width="4.60" height="27.43" fill="#3fd9b9"/>
<rect x="352.90" y="501.32" width="4.50" height="27.43" fill="#56bd8e"/>
<line x1="190.50" y1="487.60" x2="190.50" y2="529.45" stroke="#555" stroke-width="1.4"/>
<line x1="189.80" y1="528.75" x2="556.45" y2="528.75" stroke="#555" stroke-width="1.4"/>
<line x1="555.75" y1="487.60" x2="555.75" y2="528.75" stroke="#555" stroke-width="1.4"/>
<line x1="184.00" y1="487.60" x2="190.50" y2="487.60" stroke="#555" stroke-width="1.2"/>
<text x="179.20" y="490.40" font-size="8" text-anchor="end" fill="#555" font-weight="normal" >150</text>
<line x1="184.00" y1="501.32" x2="190.50" y2="501.32" stroke="#555" stroke-width="1.2"/>
<text x="179.20" y="504.12" font-size="8" text-anchor="end" fill="#555" font-weight="normal" >100</text>
<line x1="184.00" y1="515.04" x2="190.50" y2="515.04" stroke="#555" stroke-width="1.2"/>
<text x="179.20" y="517.84" font-size="8" text-anchor="end" fill="#555" font-weight="normal" >50</text>
<line x1="184.00" y1="528.76" x2="190.50" y2="528.76" stroke="#555" stroke-width="1.2"/>
<text x="179.20" y="531.56" font-size="8" text-anchor="end" fill="#555" font-weight="normal" >0</text>
<line x1="555.75" y1="487.60" x2="562.25" y2="487.60" stroke="#555" stroke-width="1.2"/>
<text x="565.75" y="490.50" font-size="8" text-anchor="start" fill="#4a7ab8" font-weight="normal" >800</text>
<line x1="555.75" y1="497.89" x2="562.25" y2="497.89" stroke="#555" stroke-width="1.2"/>
<text x="565.75" y="500.79" font-size="8" text-anchor="start" fill="#4a7ab8" font-weight="normal" >600</text>
<line x1="555.75" y1="508.18" x2="562.25" y2="508.18" stroke="#555" stroke-width="1.2"/>
<text x="565.75" y="511.08" font-size="8" text-anchor="start" fill="#4a7ab8" font-weight="normal" >400</text>
<line x1="555.75" y1="518.47" x2="562.25" y2="518.47" stroke="#555" stroke-width="1.2"/>
<text x="565.75" y="521.37" font-size="8" text-anchor="start" fill="#4a7ab8" font-weight="normal" >200</text>
<line x1="555.75" y1="528.76" x2="562.25" y2="528.76" stroke="#555" stroke-width="1.2"/>
<text x="565.75" y="531.66" font-size="8" text-anchor="start" fill="#4a7ab8" font-weight="normal" >0</text>
<line x1="208.00" y1="528.75" x2="208.00" y2="535.25" stroke="#555" stroke-width="1.2"/>
<line x1="237.83" y1="528.75" x2="237.83" y2="535.25" stroke="#555" stroke-width="1.2"/>
<line x1="267.66" y1="528.75" x2="267.66" y2="535.25" stroke="#555" stroke-width="1.2"/>
<line x1="297.49" y1="528.75" x2="297.49" y2="535.25" stroke="#555" stroke-width="1.2"/>
<line x1="327.32" y1="528.75" x2="327.32" y2="535.25" stroke="#555" stroke-width="1.2"/>
<line x1="357.15" y1="528.75" x2="357.15" y2="535.25" stroke="#555" stroke-width="1.2"/>
<line x1="386.98" y1="528.75" x2="386.98" y2="535.25" stroke="#555" stroke-width="1.2"/>
<line x1="416.81" y1="528.75" x2="416.81" y2="535.25" stroke="#555" stroke-width="1.2"/>
<line x1="446.64" y1="528.75" x2="446.64" y2="535.25" stroke="#555" stroke-width="1.2"/>
<line x1="476.47" y1="528.75" x2="476.47" y2="535.25" stroke="#555" stroke-width="1.2"/>
<line x1="506.30" y1="528.75" x2="506.30" y2="535.25" stroke="#555" stroke-width="1.2"/>
<line x1="536.13" y1="528.75" x2="536.13" y2="535.25" stroke="#555" stroke-width="1.2"/>
<text x="208.50" y="542.30" font-size="7.8" text-anchor="middle" fill="#555" font-weight="normal" >13:40</text>
<text x="297.99" y="542.30" font-size="7.8" text-anchor="middle" fill="#555" font-weight="normal" >13:55</text>
<text x="387.48" y="542.30" font-size="7.8" text-anchor="middle" fill="#555" font-weight="normal" >14:10</text>
<text x="476.97" y="542.30" font-size="7.8" text-anchor="middle" fill="#555" font-weight="normal" >14:25</text>
<polyline points="208.00,524.91 237.83,499.94 267.66,498.85 297.49,505.98 327.32,507.35 357.15,519.97" fill="none" stroke="#3b7d1c" stroke-width="1.6" stroke-linejoin="round"/>
<path d="M205.50,524.91 l2.50,-2.50 l2.50,2.50 l-2.50,2.50 Z" fill="#3b7d1c"/>
<path d="M235.33,499.94 l2.50,-2.50 l2.50,2.50 l-2.50,2.50 Z" fill="#3b7d1c"/>
<path d="M265.16,498.85 l2.50,-2.50 l2.50,2.50 l-2.50,2.50 Z" fill="#3b7d1c"/>
<path d="M294.99,505.98 l2.50,-2.50 l2.50,2.50 l-2.50,2.50 Z" fill="#3b7d1c"/>
<path d="M324.82,507.35 l2.50,-2.50 l2.50,2.50 l-2.50,2.50 Z" fill="#3b7d1c"/>
<path d="M354.65,519.97 l2.50,-2.50 l2.50,2.50 l-2.50,2.50 Z" fill="#3b7d1c"/>
<text x="157.30" y="508.00" font-size="8.8" text-anchor="middle" fill="#222" font-weight="bold" transform="rotate(-90 157.3 508)">Percentage (%)</text>
<text x="588.00" y="508.00" font-size="8.3" text-anchor="middle" fill="#4a7ab8" font-weight="bold" transform="rotate(90 588 508)">Count</text>
<rect x="186.30" y="557.40" width="12.00" height="8.00" fill="#3fd9b9"/>
<text x="202.00" y="564.50" font-size="9" text-anchor="start" fill="#555" font-weight="normal" >ASR/SER %</text>
<rect x="267.50" y="557.40" width="12.00" height="8.00" fill="#55b07c"/>
<text x="283.70" y="564.50" font-size="9" text-anchor="start" fill="#555" font-weight="normal" >NER/SEER %</text>
<rect x="356.30" y="557.40" width="12.00" height="8.00" fill="#b0a8e0"/>
<text x="372.00" y="564.50" font-size="9" text-anchor="start" fill="#555" font-weight="normal" >CCR/SCR (%)</text>
<rect x="445.70" y="557.40" width="12.00" height="8.00" fill="#c868c0"/>
<text x="461.70" y="564.50" font-size="9" text-anchor="start" fill="#555" font-weight="normal" >ISA (%)</text>
<line x1="508.00" y1="561.40" x2="519.50" y2="561.40" stroke="#6a3ad0" stroke-width="1.3"/>
<circle cx="513.75" cy="561.40" r="2.40" fill="#6a3ad0"/>
<text x="524.20" y="564.50" font-size="9" text-anchor="start" fill="#555" font-weight="normal" >Dropped</text>
<line x1="186.30" y1="572.20" x2="198.30" y2="572.20" stroke="#3b7d1c" stroke-width="1.3"/>
<path d="M189.90,572.20 l2.40,-2.40 l2.40,2.40 l-2.40,2.40 Z" fill="#3b7d1c"/>
<text x="202.00" y="575.30" font-size="9" text-anchor="start" fill="#555" font-weight="normal" >Answered</text>
<line x1="258.70" y1="572.20" x2="270.70" y2="572.20" stroke="#f06a1a" stroke-width="1.3"/>
<rect x="262.66" y="570.16" width="4.08" height="4.08" fill="#f06a1a"/>
<text x="274.50" y="575.30" font-size="9" text-anchor="start" fill="#555" font-weight="normal" >Long</text>
<line x1="311.20" y1="572.20" x2="322.50" y2="572.20" stroke="#d4148a" stroke-width="1.3"/>
<path d="M316.85,569.80 l2.40,4.32 l-4.80,0 Z" fill="#d4148a"/>
<text x="327.00" y="575.30" font-size="9" text-anchor="start" fill="#555" font-weight="normal" >Short</text>
<rect x="620.10" y="452.00" width="466.20" height="139.20" fill="#fff" stroke="#d0d0d0" stroke-width="1.2"/>
<rect x="620.60" y="452.50" width="465.20" height="20.90" fill="#f1f1f1"/>
<text x="628.90" y="463.90" font-size="8.3" font-weight="bold" fill="#222">Error Code (Call Setup) Distribution</text>
<line x1="683.40" y1="488.00" x2="683.40" y2="538.50" stroke="#e2e2e2" stroke-width="1"/>
<line x1="717.50" y1="488.00" x2="717.50" y2="538.50" stroke="#e2e2e2" stroke-width="1"/>
<line x1="751.60" y1="488.00" x2="751.60" y2="538.50" stroke="#e2e2e2" stroke-width="1"/>
<line x1="785.70" y1="488.00" x2="785.70" y2="538.50" stroke="#e2e2e2" stroke-width="1"/>
<line x1="819.80" y1="488.00" x2="819.80" y2="538.50" stroke="#e2e2e2" stroke-width="1"/>
<line x1="853.90" y1="488.00" x2="853.90" y2="538.50" stroke="#e2e2e2" stroke-width="1"/>
<line x1="888.00" y1="488.00" x2="888.00" y2="538.50" stroke="#e2e2e2" stroke-width="1"/>
<line x1="922.10" y1="488.00" x2="922.10" y2="538.50" stroke="#e2e2e2" stroke-width="1"/>
<line x1="956.20" y1="488.00" x2="956.20" y2="538.50" stroke="#e2e2e2" stroke-width="1"/>
<line x1="990.30" y1="488.00" x2="990.30" y2="538.50" stroke="#e2e2e2" stroke-width="1"/>
<line x1="1024.40" y1="488.00" x2="1024.40" y2="538.50" stroke="#e2e2e2" stroke-width="1"/>
<line x1="645.80" y1="488.00" x2="1029.00" y2="488.00" stroke="#e2e2e2" stroke-width="1"/>
<line x1="645.80" y1="498.10" x2="1029.00" y2="498.10" stroke="#e2e2e2" stroke-width="1"/>
<line x1="645.80" y1="508.20" x2="1029.00" y2="508.20" stroke="#e2e2e2" stroke-width="1"/>
<line x1="645.80" y1="518.30" x2="1029.00" y2="518.30" stroke="#e2e2e2" stroke-width="1"/>
<line x1="645.80" y1="528.40" x2="1029.00" y2="528.40" stroke="#e2e2e2" stroke-width="1"/>
<line x1="645.80" y1="488.00" x2="645.80" y2="539.20" stroke="#555" stroke-width="1.6"/>
<line x1="645.10" y1="538.50" x2="1029.70" y2="538.50" stroke="#555" stroke-width="1.4"/>
<line x1="1029.00" y1="488.00" x2="1029.00" y2="538.50" stroke="#555" stroke-width="1.4"/>
<line x1="1029.00" y1="488.00" x2="1035.50" y2="488.00" stroke="#555" stroke-width="1.2"/>
<text x="1039.30" y="490.90" font-size="8" text-anchor="start" fill="#4a7ab8" font-weight="normal" >0.01</text>
<line x1="1029.00" y1="498.10" x2="1035.50" y2="498.10" stroke="#555" stroke-width="1.2"/>
<text x="1039.30" y="501.00" font-size="8" text-anchor="start" fill="#4a7ab8" font-weight="normal" >0.008</text>
<line x1="1029.00" y1="508.20" x2="1035.50" y2="508.20" stroke="#555" stroke-width="1.2"/>
<text x="1039.30" y="511.10" font-size="8" text-anchor="start" fill="#4a7ab8" font-weight="normal" >0.006</text>
<line x1="1029.00" y1="518.30" x2="1035.50" y2="518.30" stroke="#555" stroke-width="1.2"/>
<text x="1039.30" y="521.20" font-size="8" text-anchor="start" fill="#4a7ab8" font-weight="normal" >0.004</text>
<line x1="1029.00" y1="528.40" x2="1035.50" y2="528.40" stroke="#555" stroke-width="1.2"/>
<text x="1039.30" y="531.30" font-size="8" text-anchor="start" fill="#4a7ab8" font-weight="normal" >0.002</text>
<line x1="1029.00" y1="538.50" x2="1035.50" y2="538.50" stroke="#555" stroke-width="1.2"/>
<text x="1039.30" y="541.40" font-size="8" text-anchor="start" fill="#4a7ab8" font-weight="normal" >0</text>
<line x1="683.40" y1="538.50" x2="683.40" y2="545.00" stroke="#555" stroke-width="1.2"/>
<line x1="717.50" y1="538.50" x2="717.50" y2="545.00" stroke="#555" stroke-width="1.2"/>
<line x1="751.60" y1="538.50" x2="751.60" y2="545.00" stroke="#555" stroke-width="1.2"/>
<line x1="785.70" y1="538.50" x2="785.70" y2="545.00" stroke="#555" stroke-width="1.2"/>
<line x1="819.80" y1="538.50" x2="819.80" y2="545.00" stroke="#555" stroke-width="1.2"/>
<line x1="853.90" y1="538.50" x2="853.90" y2="545.00" stroke="#555" stroke-width="1.2"/>
<line x1="888.00" y1="538.50" x2="888.00" y2="545.00" stroke="#555" stroke-width="1.2"/>
<line x1="922.10" y1="538.50" x2="922.10" y2="545.00" stroke="#555" stroke-width="1.2"/>
<line x1="956.20" y1="538.50" x2="956.20" y2="545.00" stroke="#555" stroke-width="1.2"/>
<line x1="990.30" y1="538.50" x2="990.30" y2="545.00" stroke="#555" stroke-width="1.2"/>
<line x1="1024.40" y1="538.50" x2="1024.40" y2="545.00" stroke="#555" stroke-width="1.2"/>
<text x="650.00" y="552.30" font-size="7.8" text-anchor="middle" fill="#555" font-weight="normal" >13:40</text>
<text x="752.30" y="552.30" font-size="7.8" text-anchor="middle" fill="#555" font-weight="normal" >13:55</text>
<text x="854.60" y="552.30" font-size="7.8" text-anchor="middle" fill="#555" font-weight="normal" >14:10</text>
<text x="956.90" y="552.30" font-size="7.8" text-anchor="middle" fill="#555" font-weight="normal" >14:25</text>
<polyline points="647.30,538.50 819.80,538.50" fill="none" stroke="#2259b8" stroke-width="1.5" stroke-linejoin="round"/>
<circle cx="649.30" cy="538.50" r="3.10" fill="#0b5fe0"/>
<circle cx="683.40" cy="538.50" r="3.10" fill="#0b5fe0"/>
<circle cx="717.50" cy="538.50" r="3.10" fill="#0b5fe0"/>
<circle cx="751.60" cy="538.50" r="3.10" fill="#0b5fe0"/>
<circle cx="785.70" cy="538.50" r="3.10" fill="#0b5fe0"/>
<circle cx="819.80" cy="538.50" r="3.10" fill="#0b5fe0"/>
<text x="637.70" y="514.00" font-size="9.3" text-anchor="middle" fill="#222" font-weight="normal" stroke="#222" stroke-width="0.25" transform="rotate(-90 637.7 514)">Error Code Count</text>
<text x="1067.50" y="513.00" font-size="9.3" text-anchor="middle" fill="#5482bb" font-weight="normal" transform="rotate(90 1067.5 513)">Failed Transactions</text>
<line x1="833.70" y1="572.00" x2="844.50" y2="572.00" stroke="#0b5fe0" stroke-width="1.3"/>
<circle cx="839.10" cy="572.00" r="2.40" fill="#0b5fe0"/>
<text x="848.70" y="575.10" font-size="9" text-anchor="start" fill="#555" font-weight="normal" >Failed</text>
<g transform="translate(996.30,301.90) scale(0.95)"><path d="M6.4,1.6 A4.6,4.6 0 1 1 2,7.6 L6.4,6.2 Z" fill="#1e1e1e"/><path d="M1.2,1.4 H6 V2.8 H1.2 Z" fill="#1e1e1e"/><path d="M1.2,3.4 L5.4,5.4 L1.6,6.8 Z" fill="#1e1e1e"/><path d="M7.4,1.4 A4.4,4.4 0 0 1 10.8,4.6 L7.4,5.4 Z" fill="#1e1e1e" stroke="#f1f1f1" stroke-width="0.5"/></g>
<g transform="translate(1018.20,301.90) scale(0.95)"><rect x="1.4" y="1.4" width="9.2" height="9.2" rx="1" fill="none" stroke="#1e1e1e" stroke-width="1.3"/><path d="M2,6 H4 Q4.6,4.6 6,6 Q7.4,7.4 8,6 H10" fill="none" stroke="#1e1e1e" stroke-width="1.1"/></g>
<g transform="translate(1039.90,301.30) scale(1.05)"><path d="M0.2,1.4 H2.2 V10.6 H0.2 Z M3,1.4 H7 L5.6,3 H3 Z" fill="#1e1e1e"/><path d="M3.4,9.8 L4.3,7.2 L10.4,0.8 L12.2,2.4 L6.2,8.9 Z" fill="#1e1e1e"/></g>
<g transform="translate(1062.20,302.20) scale(0.9)"><path d="M0.6,1.2 h3.4 v1.4 l-2,2 h-1.4 Z M11.4,1.2 v3.4 h-1.4 l-2,-2 v-1.4 Z M0.6,10.8 v-3.4 h1.4 l2,2 v1.4 Z M11.4,10.8 h-3.4 v-1.4 l2,-2 h1.4 Z" fill="#1e1e1e"/><path d="M2,2.6 L10,9.4 M10,2.6 L2,9.4" stroke="#1e1e1e" stroke-width="1.15"/></g>
<g transform="translate(516.00,301.90) scale(0.95)"><path d="M6.4,1.6 A4.6,4.6 0 1 1 2,7.6 L6.4,6.2 Z" fill="#1e1e1e"/><path d="M1.2,1.4 H6 V2.8 H1.2 Z" fill="#1e1e1e"/><path d="M1.2,3.4 L5.4,5.4 L1.6,6.8 Z" fill="#1e1e1e"/><path d="M7.4,1.4 A4.4,4.4 0 0 1 10.8,4.6 L7.4,5.4 Z" fill="#1e1e1e" stroke="#f1f1f1" stroke-width="0.5"/></g>
<g transform="translate(537.90,301.90) scale(0.95)"><rect x="1.4" y="1.4" width="9.2" height="9.2" rx="1" fill="none" stroke="#1e1e1e" stroke-width="1.3"/><path d="M2,6 H4 Q4.6,4.6 6,6 Q7.4,7.4 8,6 H10" fill="none" stroke="#1e1e1e" stroke-width="1.1"/></g>
<g transform="translate(559.60,301.30) scale(1.05)"><path d="M0.2,1.4 H2.2 V10.6 H0.2 Z M3,1.4 H7 L5.6,3 H3 Z" fill="#1e1e1e"/><path d="M3.4,9.8 L4.3,7.2 L10.4,0.8 L12.2,2.4 L6.2,8.9 Z" fill="#1e1e1e"/></g>
<g transform="translate(581.90,302.20) scale(0.9)"><path d="M0.6,1.2 h3.4 v1.4 l-2,2 h-1.4 Z M11.4,1.2 v3.4 h-1.4 l-2,-2 v-1.4 Z M0.6,10.8 v-3.4 h1.4 l2,2 v1.4 Z M11.4,10.8 h-3.4 v-1.4 l2,-2 h1.4 Z" fill="#1e1e1e"/><path d="M2,2.6 L10,9.4 M10,2.6 L2,9.4" stroke="#1e1e1e" stroke-width="1.15"/></g>
<g transform="translate(516.00,455.40) scale(0.95)"><path d="M6.4,1.6 A4.6,4.6 0 1 1 2,7.6 L6.4,6.2 Z" fill="#1e1e1e"/><path d="M1.2,1.4 H6 V2.8 H1.2 Z" fill="#1e1e1e"/><path d="M1.2,3.4 L5.4,5.4 L1.6,6.8 Z" fill="#1e1e1e"/><path d="M7.4,1.4 A4.4,4.4 0 0 1 10.8,4.6 L7.4,5.4 Z" fill="#1e1e1e" stroke="#f1f1f1" stroke-width="0.5"/></g>
<g transform="translate(537.90,455.40) scale(0.95)"><rect x="1.4" y="1.4" width="9.2" height="9.2" rx="1" fill="none" stroke="#1e1e1e" stroke-width="1.3"/><path d="M2,6 H4 Q4.6,4.6 6,6 Q7.4,7.4 8,6 H10" fill="none" stroke="#1e1e1e" stroke-width="1.1"/></g>
<g transform="translate(559.60,454.80) scale(1.05)"><path d="M0.2,1.4 H2.2 V10.6 H0.2 Z M3,1.4 H7 L5.6,3 H3 Z" fill="#1e1e1e"/><path d="M3.4,9.8 L4.3,7.2 L10.4,0.8 L12.2,2.4 L6.2,8.9 Z" fill="#1e1e1e"/></g>
<g transform="translate(581.90,455.70) scale(0.9)"><path d="M0.6,1.2 h3.4 v1.4 l-2,2 h-1.4 Z M11.4,1.2 v3.4 h-1.4 l-2,-2 v-1.4 Z M0.6,10.8 v-3.4 h1.4 l2,2 v1.4 Z M11.4,10.8 h-3.4 v-1.4 l2,-2 h1.4 Z" fill="#1e1e1e"/><path d="M2,2.6 L10,9.4 M10,2.6 L2,9.4" stroke="#1e1e1e" stroke-width="1.15"/></g>
<g transform="translate(996.30,455.40) scale(0.95)"><path d="M6.4,1.6 A4.6,4.6 0 1 1 2,7.6 L6.4,6.2 Z" fill="#1e1e1e"/><path d="M1.2,1.4 H6 V2.8 H1.2 Z" fill="#1e1e1e"/><path d="M1.2,3.4 L5.4,5.4 L1.6,6.8 Z" fill="#1e1e1e"/><path d="M7.4,1.4 A4.4,4.4 0 0 1 10.8,4.6 L7.4,5.4 Z" fill="#1e1e1e" stroke="#f1f1f1" stroke-width="0.5"/></g>
<g transform="translate(1018.20,455.40) scale(0.95)"><rect x="1.4" y="1.4" width="9.2" height="9.2" rx="1" fill="none" stroke="#1e1e1e" stroke-width="1.3"/><path d="M2,6 H4 Q4.6,4.6 6,6 Q7.4,7.4 8,6 H10" fill="none" stroke="#1e1e1e" stroke-width="1.1"/></g>
<g transform="translate(1039.90,454.80) scale(1.05)"><path d="M0.2,1.4 H2.2 V10.6 H0.2 Z M3,1.4 H7 L5.6,3 H3 Z" fill="#1e1e1e"/><path d="M3.4,9.8 L4.3,7.2 L10.4,0.8 L12.2,2.4 L6.2,8.9 Z" fill="#1e1e1e"/></g>
<g transform="translate(1062.20,455.70) scale(0.9)"><path d="M0.6,1.2 h3.4 v1.4 l-2,2 h-1.4 Z M11.4,1.2 v3.4 h-1.4 l-2,-2 v-1.4 Z M0.6,10.8 v-3.4 h1.4 l2,2 v1.4 Z M11.4,10.8 h-3.4 v-1.4 l2,-2 h1.4 Z" fill="#1e1e1e"/><path d="M2,2.6 L10,9.4 M10,2.6 L2,9.4" stroke="#1e1e1e" stroke-width="1.15"/></g>
<g transform="translate(952.40,454.70) scale(1.05)"><rect x="0.7" y="2.9" width="5.6" height="6.2" rx="1.8" fill="none" stroke="#1e1e1e" stroke-width="1.6"/><rect x="5.7" y="2.9" width="5.6" height="6.2" rx="1.8" fill="none" stroke="#1e1e1e" stroke-width="1.6"/><path d="M3.6,6 H8.4" stroke="#1e1e1e" stroke-width="1.7"/></g>
<g transform="translate(975.08,455.48) scale(0.92)"><path d="M1,2.4 H11 M1,6 H11 M1,9.6 H11" stroke="#1e1e1e" stroke-width="2.3"/><path d="M3.4,1 V3.6" stroke="#f1f1f1" stroke-width="0.5"/></g>
</svg>
</div>
</body></html>
